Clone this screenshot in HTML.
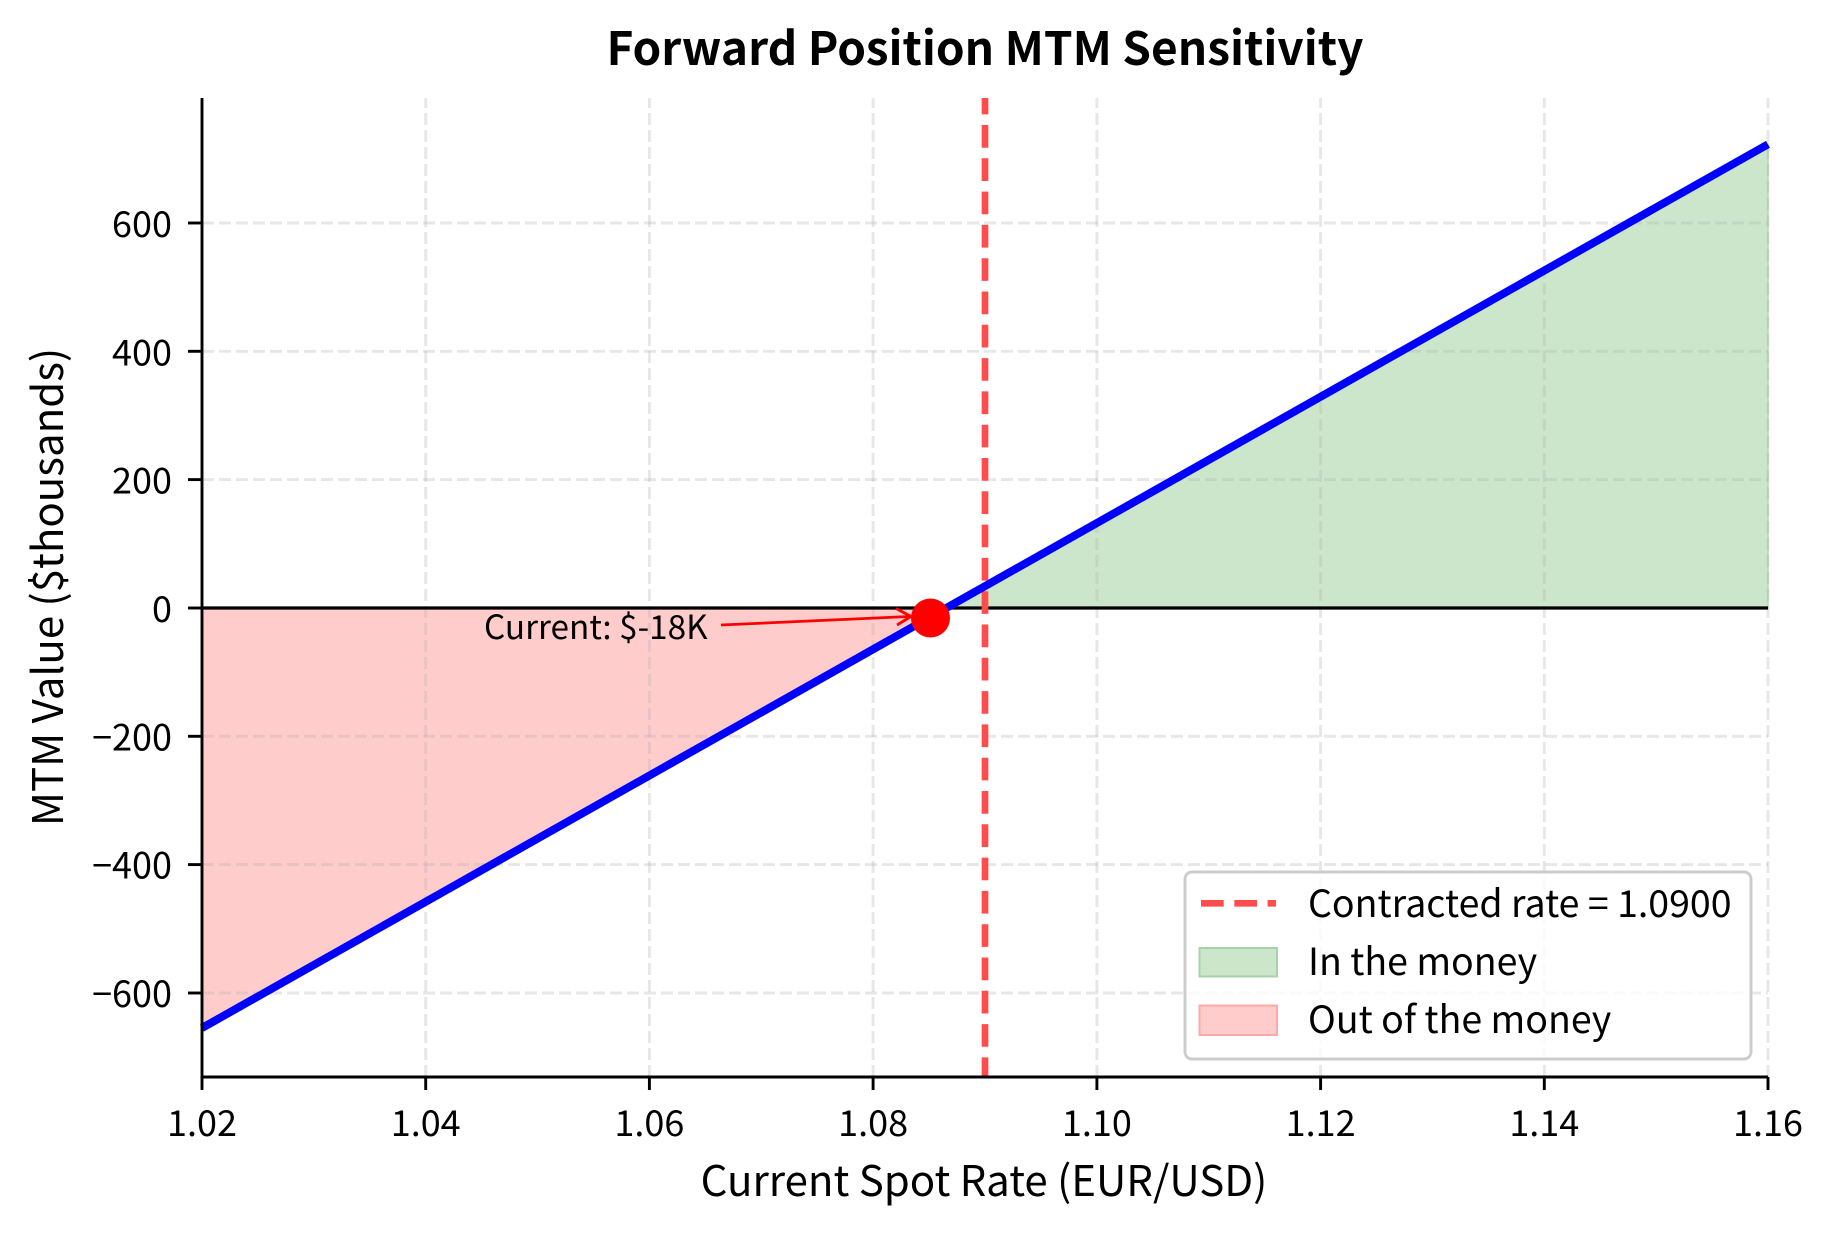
<!DOCTYPE html>
<html><head><meta charset="utf-8"><style>
html,body{margin:0;padding:0;background:#fff;}
svg{display:block;}
text{font-family:"Noto Sans CJK JP","Liberation Sans",sans-serif;fill:#000;}
</style></head><body>
<svg width="1834" height="1234" viewBox="0 0 1834 1234" xmlns="http://www.w3.org/2000/svg">
<rect width="1834" height="1234" fill="#fff"/>
<!-- fills -->
<polygon points="202,608 202,1028 946.3,608" fill="#ffcccc" stroke="#ffb8b8" stroke-width="1.5"/>
<polygon points="946.3,608 1768,144.3 1768,608" fill="#cce6cc" stroke="#b5d9b5" stroke-width="1.5"/>
<!-- grid -->
<g stroke="rgba(176,176,176,0.3)" stroke-width="2.9" stroke-dasharray="12 5">
<line x1="202" y1="223" x2="1768" y2="223"/>
<line x1="202" y1="351.3" x2="1768" y2="351.3"/>
<line x1="202" y1="479.6" x2="1768" y2="479.6"/>
<line x1="202" y1="736.3" x2="1768" y2="736.3"/>
<line x1="202" y1="864.6" x2="1768" y2="864.6"/>
<line x1="202" y1="993" x2="1768" y2="993"/>
<line x1="425.7" y1="1077" x2="425.7" y2="98"/>
<line x1="649.4" y1="1077" x2="649.4" y2="98"/>
<line x1="873.1" y1="1077" x2="873.1" y2="98"/>
<line x1="1096.9" y1="1077" x2="1096.9" y2="98"/>
<line x1="1320.6" y1="1077" x2="1320.6" y2="98"/>
<line x1="1544.3" y1="1077" x2="1544.3" y2="98"/>
<line x1="1768" y1="1077" x2="1768" y2="98"/>
</g>
<!-- zero line -->
<line x1="202" y1="608" x2="1768" y2="608" stroke="#000" stroke-width="3.3"/>
<!-- contracted rate -->
<line x1="985" y1="98" x2="985" y2="1077" stroke="#ff4d4d" stroke-width="6.7" stroke-dasharray="22.7 10.6" stroke-dashoffset="6.3"/>
<!-- MTM line -->
<line x1="202" y1="1028" x2="1768" y2="144.3" stroke="#0000ff" stroke-width="8"/>
<!-- current point -->
<circle cx="930.5" cy="618" r="19.5" fill="#ff0000"/>
<!-- annotation -->
<line x1="721" y1="625" x2="909" y2="616.5" stroke="#ff0000" stroke-width="2.8"/>
<polyline points="896,608.5 911,616.5 897,625" fill="none" stroke="#ff0000" stroke-width="2.8"/>
<text x="484" y="639" font-size="33.3">Current: $-18K</text>
<!-- spines -->
<line x1="202" y1="98" x2="202" y2="1078.4" stroke="#000" stroke-width="2.9"/>
<line x1="200.6" y1="1077" x2="1768" y2="1077" stroke="#000" stroke-width="2.9"/>
<!-- ticks -->
<g stroke="#000" stroke-width="2.9">
<line x1="202" y1="1077" x2="202" y2="1090"/>
<line x1="425.7" y1="1077" x2="425.7" y2="1090"/>
<line x1="649.4" y1="1077" x2="649.4" y2="1090"/>
<line x1="873.1" y1="1077" x2="873.1" y2="1090"/>
<line x1="1096.9" y1="1077" x2="1096.9" y2="1090"/>
<line x1="1320.6" y1="1077" x2="1320.6" y2="1090"/>
<line x1="1544.3" y1="1077" x2="1544.3" y2="1090"/>
<line x1="1768" y1="1077" x2="1768" y2="1090"/>
<line x1="188" y1="223" x2="202" y2="223"/>
<line x1="188" y1="351.3" x2="202" y2="351.3"/>
<line x1="188" y1="479.6" x2="202" y2="479.6"/>
<line x1="188" y1="608" x2="202" y2="608"/>
<line x1="188" y1="736.3" x2="202" y2="736.3"/>
<line x1="188" y1="864.6" x2="202" y2="864.6"/>
<line x1="188" y1="993" x2="202" y2="993"/>
</g>
<g font-size="36" text-anchor="middle">
<text x="202" y="1136">1.02</text>
<text x="425.7" y="1136">1.04</text>
<text x="649.4" y="1136">1.06</text>
<text x="873.1" y="1136">1.08</text>
<text x="1096.9" y="1136">1.10</text>
<text x="1320.6" y="1136">1.12</text>
<text x="1544.3" y="1136">1.14</text>
<text x="1768" y="1136">1.16</text>
</g>
<g font-size="36" text-anchor="end">
<text x="172" y="237">600</text>
<text x="172" y="365.3">400</text>
<text x="172" y="493.6">200</text>
<text x="172" y="622">0</text>
<text x="172" y="750.3">−200</text>
<text x="172" y="878.6">−400</text>
<text x="172" y="1007">−600</text>
</g>
<!-- labels -->
<text x="984" y="1196" font-size="42" text-anchor="middle">Current Spot Rate (EUR/USD)</text>
<text x="63" y="587" font-size="42" text-anchor="middle" transform="rotate(-90 63 587)">MTM Value ($thousands)</text>
<text x="985" y="65" font-size="46" font-weight="bold" text-anchor="middle">Forward Position MTM Sensitivity</text>
<!-- legend -->
<rect x="1185" y="872" width="566" height="187" rx="7" ry="7" fill="rgba(255,255,255,0.8)" stroke="#cccccc" stroke-width="2.9"/>
<line x1="1201" y1="903.3" x2="1276" y2="903.3" stroke="#ff4d4d" stroke-width="6.7" stroke-dasharray="22.7 10.6"/>
<rect x="1199.5" y="948" width="77.5" height="28.5" fill="#cce6cc" stroke="#a8d3a8" stroke-width="2"/>
<rect x="1199.5" y="1005.5" width="77.5" height="29.5" fill="#ffcccc" stroke="#ffa8a8" stroke-width="2"/>
<g font-size="37.5">
<text x="1308" y="917">Contracted rate = 1.0900</text>
<text x="1308" y="975">In the money</text>
<text x="1308" y="1033">Out of the money</text>
</g>
</svg>
</body></html>
